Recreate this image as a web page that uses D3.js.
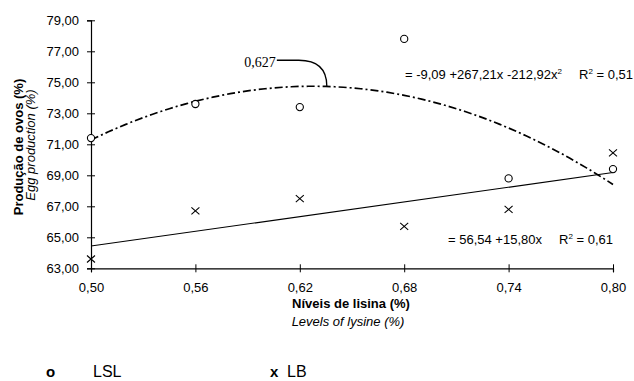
<!DOCTYPE html>
<html>
<head>
<meta charset="utf-8">
<script src="https://cdn.jsdelivr.net/npm/d3@7"></script>
<style>
  body { margin: 0; background: #fff; }
  svg { display: block; font-family: Arial, "Liberation Sans", sans-serif; }
</style>
</head>
<body>
<svg width="634" height="381"></svg>
<script>
// values
const levels = [0.50, 0.56, 0.62, 0.68, 0.74, 0.80]
const lsl = [71.4, 73.6, 73.4, 77.8, 68.8, 69.4]
const lb = [63.6, 66.7, 67.5, 65.7, 66.8, 70.45]
const yTicks = [63, 65, 67, 69, 71, 73, 75, 77, 79]
// trend line coefficients as printed on the chart
const lslFit = [-9.09, 267.21, -212.92]
const lbFit = [56.54, 15.80]
const lslR2 = "0,51", lbR2 = "0,61"
const peakLabel = "0,627"

const fmt = d => d3.format(".2f")(d).replace(".", ",").replace("\u2212", "-")

const width = 634, height = 381
const margin = {top: 20.3, right: 21, bottom: 112.7, left: 91}

const svg = d3.select("svg")

const x = d3.scaleLinear()
  .domain([0.50, 0.80])
  .range([margin.left, width - margin.right])

const y = d3.scaleLinear()
  .domain([63, 79])
  .range([height - margin.bottom, margin.top])

// axes
svg.append("g")
  .attr("transform", `translate(0,${y(63)})`)
  .call(d3.axisBottom(x).tickValues(levels).tickFormat(fmt).tickSize(4).tickPadding(10))
  .call(g => g.selectAll(".tick line").attr("y1", -4))
  .call(g => g.selectAll("text").attr("font-size", 13).attr("font-family", null))

svg.append("g")
  .attr("transform", `translate(${x(0.5)},0)`)
  .call(d3.axisLeft(y).tickValues(yTicks).tickFormat(fmt).tickSize(4).tickPadding(8))
  .call(g => g.selectAll(".tick line").attr("x1", 4))
  .call(g => g.selectAll("text").attr("font-size", 13).attr("font-family", null))

svg.selectAll(".domain").attr("stroke-width", 1.2)

// trend lines
const xs = d3.range(0.50, 0.8001, 0.005)
const line = d3.line().x(d => x(d[0])).y(d => y(d[1]))

svg.append("path")
  .attr("d", line(xs.map(v => [v, lslFit[0] + lslFit[1] * v + lslFit[2] * v * v])))
  .attr("fill", "none")
  .attr("stroke", "#000")
  .attr("stroke-width", 1.7)
  .attr("stroke-dasharray", "8,3,2,3")

svg.append("path")
  .attr("d", line([0.50, 0.80].map(v => [v, lbFit[0] + lbFit[1] * v])))
  .attr("fill", "none")
  .attr("stroke", "#000")
  .attr("stroke-width", 1.2)

// markers
svg.append("g")
  .selectAll("circle")
  .data(levels.map((l, i) => [l, lsl[i]]))
  .join("circle")
    .attr("cx", d => x(d[0]))
    .attr("cy", d => y(d[1]))
    .attr("r", 3.6)
    .attr("fill", "#fff")
    .attr("stroke", "#000")
    .attr("stroke-width", 1.1)

svg.append("g")
  .selectAll("path")
  .data(levels.map((l, i) => [l, lb[i]]))
  .join("path")
    .attr("transform", d => `translate(${x(d[0])},${y(d[1])})`)
    .attr("d", "M-4,-3.5L4,3.5M-4,3.5L4,-3.5")
    .attr("stroke", "#000")
    .attr("stroke-width", 1.1)

// annotation of the maximum
const xMax = -lslFit[1] / (2 * lslFit[2])
const yMax = lslFit[0] + lslFit[1] * xMax + lslFit[2] * xMax * xMax
const px = x(xMax) + 14, py = y(yMax)
svg.append("path")
  .attr("d", `M${px - 50},${py - 26} L${px - 28},${py - 26} C${px - 8},${py - 26} ${px},${py - 16} ${px},${py}`)
  .attr("fill", "none")
  .attr("stroke", "#000")
  .attr("stroke-width", 1.3)
svg.append("text")
  .attr("x", px - 51)
  .attr("y", py - 19.5)
  .attr("text-anchor", "end")
  .attr("font-family", "'Liberation Serif', 'Times New Roman', serif")
  .attr("font-size", 14)
  .text(peakLabel)

// equations
function sup(t, base, rest) {
  t.text(base)
  t.append("tspan").attr("dy", -5).attr("font-size", 8).text("2")
  if (rest) t.append("tspan").attr("dy", 5).text(rest)
}
const eq = svg.append("g").attr("font-size", 13)
sup(eq.append("text").attr("x", 405).attr("y", 79),
  `= ${fmt(lslFit[0])} +${fmt(lslFit[1])}x ${fmt(lslFit[2])}x`)
sup(eq.append("text").attr("x", 579).attr("y", 79), "R", ` = ${lslR2}`)
eq.append("text").attr("x", 448).attr("y", 244).text(`= ${fmt(lbFit[0])} +${fmt(lbFit[1])}x`)
sup(eq.append("text").attr("x", 559).attr("y", 244), "R", ` = ${lbR2}`)

// axis titles
svg.append("text")
  .attr("transform", `translate(23,147) rotate(-90)`)
  .attr("text-anchor", "middle")
  .attr("font-size", 13)
  .attr("font-weight", "bold")
  .text("Produção de ovos (%)")
svg.append("text")
  .attr("transform", `translate(35,145) rotate(-90)`)
  .attr("text-anchor", "middle")
  .attr("font-size", 13)
  .attr("font-style", "italic")
  .text("Egg production (%)")

svg.append("text")
  .attr("x", 351).attr("y", 308)
  .attr("text-anchor", "middle")
  .attr("font-size", 13)
  .attr("font-weight", "bold")
  .text("Níveis de lisina (%)")
svg.append("text")
  .attr("x", 348).attr("y", 325.5)
  .attr("text-anchor", "middle")
  .attr("font-size", 13)
  .attr("font-style", "italic")
  .text("Levels of lysine (%)")

// legend
const legend = svg.append("g").attr("font-size", 16)
legend.append("text").attr("x", 46).attr("y", 377).attr("font-weight", "bold").attr("font-size", 15).text("o")
legend.append("text").attr("x", 93).attr("y", 377).text("LSL")
legend.append("text").attr("x", 270).attr("y", 377).attr("font-weight", "bold").attr("font-size", 15).text("x")
legend.append("text").attr("x", 287).attr("y", 377).text("LB")
</script>
</body>
</html>
